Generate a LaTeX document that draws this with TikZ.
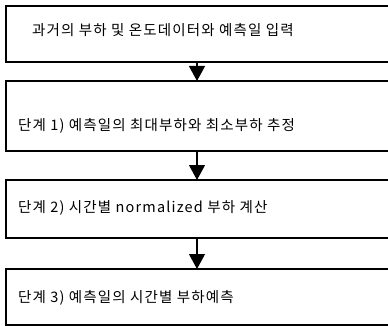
\documentclass[tikz,border=0pt]{standalone}
\usepackage{fontspec}
\setmainfont{Noto Sans CJK KR}[LetterSpace=8]
\usetikzlibrary{arrows.meta}
\tikzset{
  box/.style={draw=black, line width=1.2pt, anchor=north west, minimum width=390pt, inner sep=0pt, outer sep=0pt},
  lbl/.style={anchor=west, inner sep=0pt, font=\fontsize{14.5}{16}\selectfont},
  arr/.style={line width=1.2pt, -{Triangle[width=16pt,length=15pt]}}
}
\begin{document}
\begin{tikzpicture}[x=1pt,y=-1pt]
\useasboundingbox (0,0) rectangle (388,326);
\coordinate (axis) at (197,0);
\node[box, minimum height=56pt] (b1) at (6,6) {};
\node[box, minimum height=70pt] (b2) at (6,81) {};
\node[box, minimum height=58pt] (b3) at (6,180) {};
\node[box, minimum height=56pt] (b4) at (6,269) {};
\node[lbl] (t1) at (32,30) {과거의 부하 및 온도데이터와 예측일 입력};
\node[lbl] (t2) at (18,126) {단계 1) 예측일의 최대부하와 최소부하 추정};
\node[lbl] (t3) at (18,208) {단계 2) 시간별 normalized 부하 계산};
\node[lbl] (t4) at (18,298) {단계 3) 예측일의 시간별 부하예측};
\draw[arr] (b1.south -| axis) -- (b2.north -| axis);
\draw[arr] (b2.south -| axis) -- (b3.north -| axis);
\draw[arr] (b3.south -| axis) -- (b4.north -| axis);
\end{tikzpicture}
\end{document}
